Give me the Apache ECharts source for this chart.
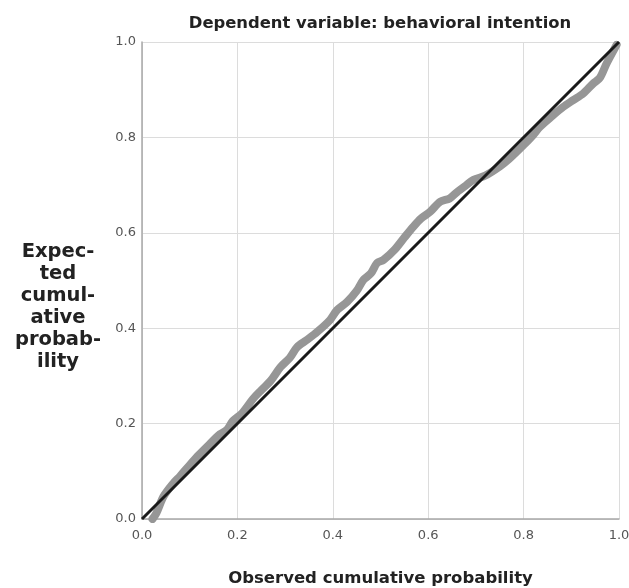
<!DOCTYPE html>
<html>
<head>
<meta charset="utf-8">
<script src="https://cdn.jsdelivr.net/npm/echarts@6/dist/echarts.min.js"></script>
<style>html,body{margin:0;padding:0;background:#fff;}#c{width:629px;height:588px;}</style>
</head>
<body>
<div id="c"></div>
<script>
var observed = [0.022,0.03,0.045,0.065,0.08,0.10,0.12,0.143,0.16,0.178,0.19,0.21,0.233,0.25,0.27,0.29,0.31,0.325,0.345,0.367,0.394,0.409,0.43,0.45,0.464,0.48,0.493,0.506,0.53,0.55,0.569,0.585,0.604,0.625,0.645,0.66,0.68,0.695,0.72,0.75,0.77,0.80,0.82,0.834,0.86,0.883,0.904,0.925,0.946,0.96,0.974,0.995];
var expected = [0.0,0.012,0.047,0.074,0.09,0.113,0.135,0.158,0.175,0.187,0.205,0.222,0.252,0.27,0.29,0.318,0.338,0.36,0.375,0.392,0.417,0.438,0.455,0.478,0.501,0.515,0.537,0.543,0.565,0.59,0.613,0.63,0.644,0.665,0.672,0.685,0.70,0.711,0.72,0.739,0.755,0.784,0.805,0.822,0.845,0.864,0.878,0.892,0.913,0.925,0.955,0.994];
var refX = [0, 1];
var refY = [0, 1];
var tickLabels = ['0.0','0.2','0.4','0.6','0.8','1.0'];
var titleText = 'Dependent variable: behavioral intention';
var xTitle = 'Observed cumulative probability';
var yTitle = 'Expec-\nted\ncumul-\native\nprobab-\nility';

var chart = echarts.init(document.getElementById('c'));
var font = '"DejaVu Sans", sans-serif';
function fmt(v){ var i = Math.round(v*5); return tickLabels[i] !== undefined ? tickLabels[i] : ''; }
chart.setOption({
  animation: false,
  backgroundColor: '#fff',
  title: {
    text: titleText, left: 375, top: 11, textAlign: 'center',
    textStyle: {fontFamily: font, fontSize: 16.4, fontWeight: 'bold', color: '#222'}
  },
  grid: {left: 142, top: 42, right: 10, bottom: 69, containLabel: false, outerBoundsMode: 'none'},
  xAxis: {
    type: 'value', min: 0, max: 1, interval: 0.2,
    axisLine: {show: true, lineStyle: {color: '#a8a8a8', width: 1.5}},
    axisTick: {show: false},
    splitLine: {show: true, lineStyle: {color: '#dcdcdc', width: 1}},
    axisLabel: {formatter: fmt, fontFamily: font, fontSize: 13, color: '#555', margin: 10},
    name: xTitle, nameLocation: 'middle', nameGap: 51,
    nameTextStyle: {fontFamily: font, fontSize: 16.5, fontWeight: 'bold', color: '#222'}
  },
  yAxis: {
    type: 'value', min: 0, max: 1, interval: 0.2,
    axisLine: {show: true, lineStyle: {color: '#a8a8a8', width: 1.5}},
    axisTick: {show: false},
    splitLine: {show: true, lineStyle: {color: '#dcdcdc', width: 1}},
    axisLabel: {formatter: fmt, fontFamily: font, fontSize: 13, color: '#555', margin: 6}
  },
  graphic: [{
    type: 'text', x: 58, y: 241,
    style: {text: yTitle, textAlign: 'center', textVerticalAlign: 'top', fontFamily: font, fontSize: 19.5, fontWeight: 'bold', fill: '#222', lineHeight: 22}
  }],
  series: [{
    type: 'line', data: observed.map(function(v,i){return [v, expected[i]];}),
    showSymbol: false, smooth: 0.3,
    lineStyle: {color: '#969696', width: 8, cap: 'round', join: 'round'},
    z: 2
  },{
    type: 'line', data: refX.map(function(v,i){return [v, refY[i]];}),
    showSymbol: false,
    lineStyle: {color: '#1a1a1a', width: 3},
    z: 3
  }]
});
</script>
</body>
</html>
